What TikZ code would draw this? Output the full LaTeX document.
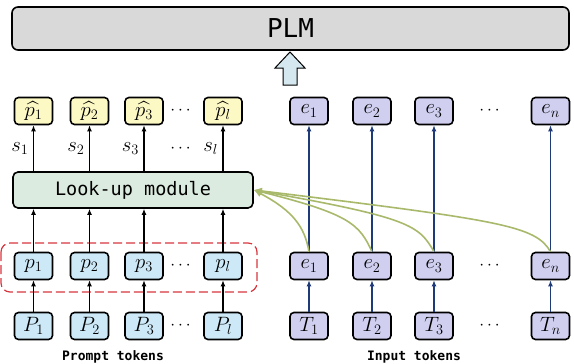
\documentclass[tikz,border=0pt]{standalone}
\usepackage{amsmath}
\usepackage{amssymb}
\usepackage{fontspec}
\setmonofont{DejaVu Sans Mono}
\usepackage{tikz}
\usepackage{xcolor}
\usetikzlibrary{arrows.meta}

\definecolor{plmgray}{RGB}{217,217,217}
\definecolor{lookgreen}{RGB}{220,235,223}
\definecolor{hatyellow}{RGB}{253,249,196}
\definecolor{promptblue}{RGB}{205,233,248}
\definecolor{inputlav}{RGB}{208,207,240}
\definecolor{navy}{RGB}{31,58,120}
\definecolor{olive}{RGB}{168,185,107}
\definecolor{dashred}{RGB}{214,54,62}
\definecolor{uparrow}{RGB}{214,232,239}

\begin{document}
\begin{tikzpicture}[x=1pt, y=-1pt,
    tok/.style={draw, line width=1.6pt, rounded corners=4pt, minimum width=38pt,
        minimum height=27pt, inner sep=0pt, font=\fontsize{20.74}{23}\selectfont},
    hat/.style={tok, fill=hatyellow},
    prm/.style={tok, fill=promptblue},
    inp/.style={tok, fill=inputlav},
    arr/.style={line width=1.5pt, -{Latex[length=6pt,width=5pt]}},
    blu/.style={arr, navy},
    feed/.style={line width=1.6pt, olive, -{Latex[length=8pt,width=7pt]}},
    dotsl/.style={font=\fontsize{17.28}{19}\selectfont}
]
\useasboundingbox (0,0) rectangle (574,364);

% Modelo PLM y flecha gruesa
\node[draw, line width=1.6pt, rounded corners=6pt, fill=plmgray, minimum width=557pt,
    minimum height=43pt, font=\ttfamily\fontsize{26}{28}\selectfont] (plm) at (290.5,28.5) {PLM};
\filldraw[fill=uparrow, line width=1pt] (283,85) -- (283,68) -- (275,68) -- (290,52)
    -- (305,68) -- (297,68) -- (297,85) -- cycle;

% Salidas del prompt (fila de arriba)
\node[hat] (ph1) at (33.5,111) {$\widehat{p_1}$};
\node[hat] (ph2) at (89.5,111) {$\widehat{p_2}$};
\node[hat] (ph3) at (144,111) {$\widehat{p_3}$};
\node[dotsl] (phdots) at (182,111) {$\cdots$};
\node[hat] (phl) at (223,111) {$\widehat{p_l}$};

% Embeddings de entrada (fila de arriba)
\node[inp] (eo1) at (309,111) {$e_1$};
\node[inp] (eo2) at (372,111) {$e_2$};
\node[inp] (eo3) at (434,111) {$e_3$};
\node[dotsl] (eodots) at (491,111) {$\cdots$};
\node[inp] (eon) at (550.5,111) {$e_n$};

% Modulo de busqueda
\node[draw, line width=1.6pt, rounded corners=5pt, fill=lookgreen, minimum width=240pt,
    minimum height=36pt, font=\ttfamily\fontsize{18.5}{20}\selectfont] (lookup) at (133,190) {Look-up module};

% Fila media
\node[prm] (p1) at (33.5,266) {$p_1$};
\node[prm] (p2) at (89.5,266) {$p_2$};
\node[prm] (p3) at (144,266) {$p_3$};
\node[dotsl] (pdots) at (182,266) {$\cdots$};
\node[prm] (pl) at (223,266) {$p_l$};

\node[inp] (e1) at (309,266) {$e_1$};
\node[inp] (e2) at (372,266) {$e_2$};
\node[inp] (e3) at (434,266) {$e_3$};
\node[dotsl] (edots) at (491,266) {$\cdots$};
\node[inp] (en) at (550.5,266) {$e_n$};

% Tokens (fila de abajo)
\node[prm] (P1) at (33.5,326) {$P_1$};
\node[prm] (P2) at (89.5,326) {$P_2$};
\node[prm] (P3) at (144,326) {$P_3$};
\node[dotsl] (Pdots) at (182,326) {$\cdots$};
\node[prm] (Pl) at (223,326) {$P_l$};

\node[inp] (T1) at (309,326) {$T_1$};
\node[inp] (T2) at (372,326) {$T_2$};
\node[inp] (T3) at (434,326) {$T_3$};
\node[dotsl] (Tdots) at (491,326) {$\cdots$};
\node[inp] (Tn) at (550.5,326) {$T_n$};

% Caja punteada roja
\draw[dashred, line width=1.2pt, dash pattern=on 9pt off 4pt, rounded corners=9pt]
    (1,243) rectangle (257,292);

% Etiquetas
\node[font=\ttfamily\bfseries\fontsize{13}{15}\selectfont] (plabel) at (113,357) {Prompt tokens};
\node[font=\ttfamily\bfseries\fontsize{13}{15}\selectfont] (ilabel) at (414,357) {Input tokens};

% Flechas del prompt
\draw[arr] (P1) -- (p1);
\draw[arr] (P2) -- (p2);
\draw[arr] (P3) -- (p3);
\draw[arr] (Pl) -- (pl);
\draw[arr] (p1.north) -- (p1.north |- lookup.south);
\draw[arr] (p2.north) -- (p2.north |- lookup.south);
\draw[arr] (p3.north) -- (p3.north |- lookup.south);
\draw[arr] (pl.north) -- (pl.north |- lookup.south);
\draw[arr] (ph1.south |- lookup.north) -- (ph1.south)
    node[midway, left=1pt, font=\fontsize{20.74}{23}\selectfont] {$s_1$};
\draw[arr] (ph2.south |- lookup.north) -- (ph2.south)
    node[midway, left=1pt, font=\fontsize{20.74}{23}\selectfont] {$s_2$};
\draw[arr] (ph3.south |- lookup.north) -- (ph3.south)
    node[midway, left=1pt, font=\fontsize{20.74}{23}\selectfont] {$s_3$};
\draw[arr] (phl.south |- lookup.north) -- (phl.south)
    node[midway, left=1pt, font=\fontsize{20.74}{23}\selectfont] {$s_l$};
\node[dotsl] (sdots) at (182,149) {$\cdots$};

% Flechas de la entrada
\draw[blu] (T1) -- (e1);
\draw[blu] (T2) -- (e2);
\draw[blu] (T3) -- (e3);
\draw[blu] (Tn) -- (en);
\draw[blu] (e1) -- (eo1);
\draw[blu] (e2) -- (eo2);
\draw[blu] (e3) -- (eo3);
\draw[blu] (en) -- (eon);

% Curvas hacia el modulo
\draw[feed] (e1.north) to[out=100, in=-28, out distance=25pt, in distance=45pt] (lookup.east);
\draw[feed] (e2.north) to[out=115, in=-14, out distance=30pt, in distance=100pt] (lookup.east);
\draw[feed] (e3.north) to[out=120, in=-10, out distance=30pt, in distance=160pt] (lookup.east);
\draw[feed] (en.north) to[out=120, in=-7, out distance=30pt, in distance=250pt] (lookup.east);

\end{tikzpicture}
\end{document}
